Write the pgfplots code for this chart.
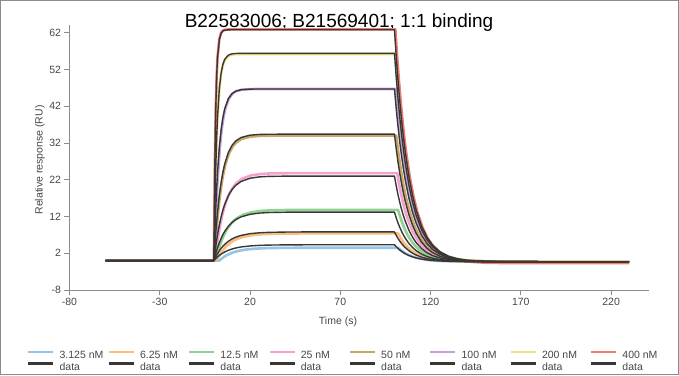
\documentclass[border=0pt]{standalone}
\usepackage{pgfplots}
\pgfplotsset{compat=1.18}
\usepackage{fontspec}
\setmainfont{Liberation Sans}
\definecolor{cA}{RGB}{150,195,232}
\definecolor{cB}{RGB}{250,190,125}
\definecolor{cC}{RGB}{145,210,145}
\definecolor{cD}{RGB}{245,160,205}
\definecolor{cE}{RGB}{200,168,105}
\definecolor{cF}{RGB}{200,160,222}
\definecolor{cG}{RGB}{240,228,125}
\definecolor{cH}{RGB}{240,125,115}
\definecolor{dk}{RGB}{55,55,55}
\definecolor{axgray}{RGB}{140,140,140}
\definecolor{txt}{RGB}{70,70,70}
\newcommand\lgd[1]{\makebox[53pt][l]{\hspace{5pt}#1}}
\begin{document}
\begin{tikzpicture}[x=1pt,y=1pt]
\useasboundingbox (0,0) rectangle (679,375);
\draw[axgray, line width=1pt] (0.5,0.5) rectangle (678.5,374.5);
\node[font=\fontsize{19}{22}\selectfont, anchor=base] at (339,347) {B22583006; B21569401; 1:1 binding};
\node[font=\fontsize{10.5}{12}\selectfont, text=txt, rotate=90] at (40,215) {Relative response (RU)};
\node[font=\fontsize{10.5}{12}\selectfont, text=txt] at (338,53) {Time (s)};
\begin{axis}[
  at={(69.5pt,85pt)}, anchor=south west,
  scale only axis, width=579.5pt, height=265pt,
  xmin=-80, xmax=241, ymin=-8, ymax=64.1,
  axis x line=bottom, axis y line=left,
  axis line style={-, axgray, line width=0.8pt},
  xtick={-80,-30,20,70,120,170,220},
  ytick={-8,2,12,22,32,42,52,62},
  tick align=outside, major tick length=5pt,
  tick style={axgray, line width=0.8pt},
  ticklabel style={font=\fontsize{10.5}{12}\selectfont, text=txt},
  /pgf/number format/assume math mode=true,
  legend columns=8,
  legend style={at={(-0.0733,-0.2283)}, anchor=north west, draw=none, fill=none,
    font=\fontsize{10.5}{12}\selectfont, text=txt, inner sep=0pt,
    column sep=0pt, row sep=2.5pt, nodes={inner sep=0pt}},
  legend image code/.code={\draw[#1, line width=2.4pt] (0pt,3.5pt) -- (25pt,3.5pt);},
  legend entries={\lgd{3.125 nM},\lgd{6.25 nM},\lgd{12.5 nM},\lgd{25 nM},\lgd{50 nM},\lgd{100 nM},\lgd{200 nM},\lgd{400 nM},\lgd{data},\lgd{data},\lgd{data},\lgd{data},\lgd{data},\lgd{data},\lgd{data},\lgd{data}},
  every axis plot/.append style={line join=round},
]
% measured (coloured)
\addplot[cA, line width=2.6pt] coordinates {(-60,0)(3,0)(3.5,0.22)(4,0.43)(4.5,0.63)(5,0.81)(6,1.15)(7,1.43)(8,1.69)(9,1.91)(11,2.28)(13,2.56)(15,2.78)(18,3.02)(23,3.25)(28,3.37)(33,3.43)(43,3.48)(53,3.5)(102,3.5)(103,3.05)(104,2.66)(105,2.31)(106,2.00)(107,1.73)(108,1.50)(110,1.10)(112,0.79)(114,0.55)(117,0.28)(120,0.10)(123,-0.02)(127,-0.13)(132,-0.21)(142,-0.27)(170,-0.3)(230,-0.3)};
\addplot[cB, line width=2.6pt] coordinates {(-60,0)(1.5,0)(2,0.50)(2.5,0.97)(3,1.40)(3.5,1.80)(4.5,2.54)(5.5,3.17)(6.5,3.73)(7.5,4.20)(9.5,4.98)(11.5,5.58)(13.5,6.02)(16.5,6.49)(21.5,6.95)(26.5,7.17)(31.5,7.29)(41.5,7.37)(51.5,7.4)(102,7.4)(103,6.50)(104,5.70)(105,4.99)(106,4.37)(107,3.82)(108,3.34)(110,2.53)(112,1.91)(114,1.42)(117,0.88)(120,0.51)(123,0.26)(127,0.04)(132,-0.12)(137,-0.20)(142,-0.25)(152,-0.28)(170,-0.3)(230,-0.3)};
\addplot[cC, line width=2.6pt] coordinates {(-60,0)(1,0)(1.5,1.02)(2,1.97)(2.5,2.84)(3,3.66)(4,5.10)(5,6.35)(6,7.41)(7,8.32)(9,9.77)(11,10.84)(13,11.63)(16,12.43)(21,13.16)(26,13.51)(31,13.66)(41,13.77)(51,13.8)(102,13.8)(103,12.14)(104,10.68)(105,9.39)(106,8.25)(107,7.25)(108,6.36)(110,4.89)(112,3.74)(114,2.85)(117,1.86)(120,1.19)(123,0.72)(127,0.32)(132,0.03)(137,-0.12)(142,-0.21)(152,-0.27)(170,-0.3)(230,-0.3)};
\addplot[cD, line width=2.6pt] coordinates {(-60,0)(0.6,0)(1.1,2.08)(1.6,3.98)(2.1,5.71)(2.6,7.30)(3.6,10.06)(4.6,12.36)(5.6,14.27)(6.6,15.86)(8.6,18.30)(10.6,19.98)(12.6,21.15)(15.6,22.27)(20.6,23.19)(25.6,23.55)(30.6,23.71)(40.6,23.78)(50.6,23.8)(101.5,23.8)(102.5,20.97)(103.5,18.47)(104.5,16.26)(105.5,14.32)(106.5,12.60)(107.5,11.08)(109.5,8.57)(111.5,6.60)(113.5,5.08)(116.5,3.40)(119.5,2.24)(122.5,1.44)(126.5,0.76)(131.5,0.27)(136.5,0.00)(141.5,-0.14)(151.5,-0.25)(161.5,-0.29)(180,-0.3)(230,-0.3)};
\addplot[cE, line width=2.6pt] coordinates {(-60,0)(0.3,0)(0.8,3.87)(1.3,7.30)(1.8,10.35)(2.3,13.05)(3.3,17.55)(4.3,21.08)(5.3,23.86)(6.3,26.04)(8.3,29.10)(10.3,30.98)(12.3,32.13)(15.3,33.10)(20.3,33.73)(25.3,33.92)(30.3,33.98)(40.3,34.0)(101,34.0)(102,29.97)(103,26.41)(104,23.27)(105,20.50)(106,18.06)(107,15.90)(109,12.32)(111,9.53)(113,7.35)(116,4.96)(119,3.32)(122,2.18)(126,1.21)(131,0.51)(136,0.13)(141,-0.07)(151,-0.23)(161,-0.28)(180,-0.3)(230,-0.3)};
\addplot[cF, line width=2.6pt] coordinates {(-60,0)(0.3,0)(0.8,7.69)(1.3,14.12)(1.8,19.49)(2.3,23.97)(3.3,30.84)(4.3,35.64)(5.3,38.98)(6.3,41.32)(8.3,44.08)(10.3,45.42)(12.3,46.08)(15.3,46.49)(20.3,46.66)(25.3,46.7)(100.8,46.7)(101.8,41.18)(102.8,36.30)(103.8,32.00)(104.8,28.21)(105.8,24.86)(106.8,21.90)(108.8,16.99)(110.8,13.17)(112.8,10.19)(115.8,6.91)(118.8,4.65)(121.8,3.10)(125.8,1.76)(130.8,0.80)(135.8,0.29)(140.8,0.01)(150.8,-0.21)(160.8,-0.27)(180,-0.3)(230,-0.3)};
\addplot[cG, line width=2.6pt] coordinates {(-60,0)(0,0)(0.5,14.36)(1,25.05)(1.5,33.00)(2,38.93)(3,46.63)(4,50.90)(5,53.26)(6,54.57)(8,55.70)(10,56.05)(12,56.15)(15,56.19)(20,56.2)(100.5,56.2)(101.5,49.56)(102.5,43.70)(103.5,38.53)(104.5,33.97)(105.5,29.94)(106.5,26.39)(108.5,20.49)(110.5,15.89)(112.5,12.31)(115.5,8.37)(118.5,5.66)(121.5,3.79)(125.5,2.18)(130.5,1.03)(135.5,0.41)(140.5,0.08)(150.5,-0.19)(160.5,-0.27)(180,-0.3)(230,-0.3)};
\addplot[cH, line width=2.6pt] coordinates {(-60,0)(0,0)(0.5,25.88)(1,41.11)(1.5,50.08)(2,55.35)(3,60.29)(4,62.00)(5,62.59)(6,62.79)(8,62.89)(10,62.9)(100.5,62.9)(101.5,55.43)(102.5,48.83)(103.5,43.01)(104.5,37.87)(105.5,33.35)(106.5,29.34)(108.5,22.70)(110.5,17.52)(112.5,13.49)(115.5,9.06)(118.5,6.00)(121.5,3.90)(125.5,2.09)(130.5,0.79)(135.5,0.10)(140.5,-0.27)(150.5,-0.58)(160.5,-0.66)(180,-0.7)(230,-0.7)};
% data (dark)
\addplot[dk, line width=1.4pt] coordinates {(-60,0)(0,0)(0.5,0.27)(1,0.53)(1.5,0.77)(2,1.00)(3,1.41)(4,1.76)(5,2.08)(6,2.35)(8,2.80)(10,3.15)(12,3.42)(15,3.71)(20,3.99)(25,4.14)(30,4.22)(40,4.28)(50,4.3)(100,4.3)(101,3.76)(102,3.28)(103,2.86)(104,2.49)(105,2.16)(106,1.87)(108,1.39)(110,1.02)(112,0.73)(115,0.41)(118,0.18)(121,0.03)(125,-0.10)(130,-0.19)(140,-0.27)(150,-0.29)(160,-0.3)(230,-0.3)};
\addplot[dk, line width=1.4pt] coordinates {(-60,0)(0,0)(0.5,0.53)(1,1.02)(1.5,1.48)(2,1.90)(3,2.68)(4,3.34)(5,3.93)(6,4.43)(8,5.25)(10,5.88)(12,6.35)(15,6.84)(20,7.33)(25,7.56)(30,7.68)(40,7.77)(50,7.8)(100,7.8)(101,6.85)(102,6.01)(103,5.27)(104,4.61)(105,4.04)(106,3.53)(108,2.68)(110,2.02)(112,1.51)(115,0.94)(118,0.55)(121,0.29)(125,0.06)(130,-0.11)(135,-0.2)(140,-0.25)(150,-0.28)(160,-0.3)(230,-0.3)};
\addplot[dk, line width=1.4pt] coordinates {(-60,0)(0,0)(0.5,0.98)(1,1.88)(1.5,2.72)(2,3.50)(3,4.88)(4,6.07)(5,7.09)(6,7.96)(8,9.35)(10,10.37)(12,11.12)(15,11.89)(20,12.59)(25,12.92)(30,13.07)(40,13.17)(50,13.2)(100,13.2)(101,11.61)(102,10.21)(103,8.98)(104,7.89)(105,6.93)(106,6.08)(108,4.67)(110,3.57)(112,2.71)(115,1.77)(118,1.12)(121,0.68)(125,0.29)(130,0.02)(135,-0.13)(140,-0.21)(150,-0.27)(160,-0.29)(180,-0.3)(230,-0.3)};
\addplot[dk, line width=1.4pt] coordinates {(-60,0)(0,0)(0.5,2.01)(1,3.85)(1.5,5.52)(2,7.05)(3,9.72)(4,11.94)(5,13.79)(6,15.33)(8,17.68)(10,19.31)(12,20.44)(15,21.52)(20,22.41)(25,22.76)(30,22.91)(40,22.98)(50,23.0)(100,23.0)(101,20.26)(102,17.85)(103,15.71)(104,13.83)(105,12.17)(106,10.71)(108,8.27)(110,6.38)(112,4.90)(115,3.27)(118,2.16)(121,1.39)(125,0.72)(130,0.25)(135,-0.01)(140,-0.14)(150,-0.26)(160,-0.29)(180,-0.3)(230,-0.3)};
\addplot[dk, line width=1.4pt] coordinates {(-60,0)(0,0)(0.5,3.92)(1,7.39)(1.5,10.47)(2,13.20)(3,17.76)(4,21.33)(5,24.14)(6,26.35)(8,29.44)(10,31.34)(12,32.51)(15,33.49)(20,34.13)(25,34.32)(30,34.38)(40,34.4)(100,34.4)(101,30.32)(102,26.72)(103,23.55)(104,20.75)(105,18.28)(106,16.09)(108,12.47)(110,9.64)(112,7.44)(115,5.02)(118,3.36)(121,2.21)(125,1.22)(130,0.52)(135,0.14)(140,-0.07)(150,-0.23)(160,-0.28)(180,-0.3)(230,-0.3)};
\addplot[dk, line width=1.4pt] coordinates {(-60,0)(0,0)(0.5,7.69)(1,14.12)(1.5,19.49)(2,23.97)(3,30.84)(4,35.64)(5,38.98)(6,41.32)(8,44.08)(10,45.42)(12,46.08)(15,46.49)(20,46.66)(25,46.7)(100,46.7)(101,41.18)(102,36.30)(103,32.00)(104,28.21)(105,24.86)(106,21.90)(108,16.99)(110,13.17)(112,10.19)(115,6.91)(118,4.65)(121,3.10)(125,1.76)(130,0.80)(135,0.29)(140,0.01)(150,-0.21)(160,-0.27)(180,-0.3)(230,-0.3)};
\addplot[dk, line width=1.4pt] coordinates {(-60,0)(0,0)(0.5,14.41)(1,25.14)(1.5,33.12)(2,39.07)(3,46.80)(4,51.08)(5,53.45)(6,54.76)(8,55.90)(10,56.25)(12,56.35)(15,56.39)(20,56.4)(100,56.4)(101,49.74)(102,43.86)(103,38.67)(104,34.09)(105,30.05)(106,26.49)(108,20.56)(110,15.94)(112,12.35)(115,8.40)(118,5.68)(121,3.81)(125,2.19)(130,1.03)(135,0.41)(140,0.08)(150,-0.19)(160,-0.27)(180,-0.3)(230,-0.3)};
\addplot[dk, line width=1.4pt] coordinates {(-60,0)(0,0)(0.5,25.84)(1,41.04)(1.5,50.0)(2,55.26)(3,60.19)(4,61.90)(5,62.49)(6,62.69)(8,62.79)(10,62.8)(100,62.8)(101,55.39)(102,48.84)(103,43.07)(104,37.97)(105,33.48)(106,29.51)(108,22.91)(110,17.78)(112,13.78)(115,9.38)(118,6.35)(121,4.27)(125,2.47)(130,1.18)(135,0.50)(140,0.12)(150,-0.18)(160,-0.27)(180,-0.3)(230,-0.3)};
\end{axis}
\end{tikzpicture}
\end{document}
